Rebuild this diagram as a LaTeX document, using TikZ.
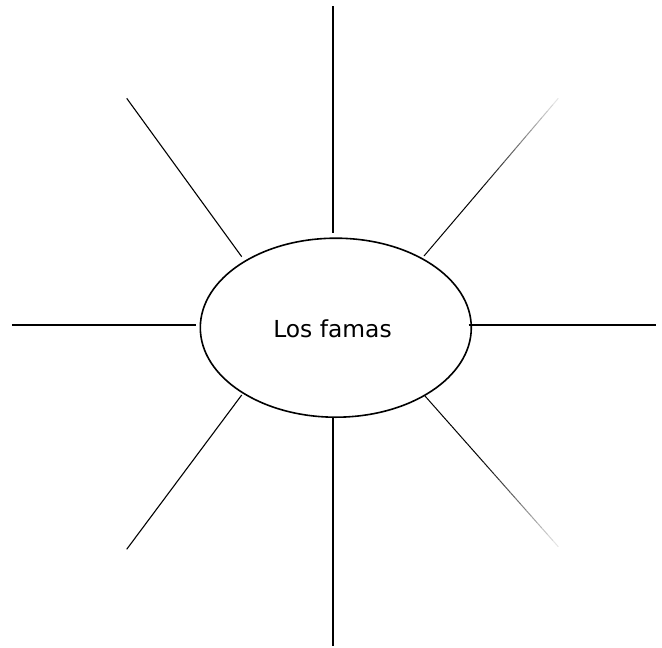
\documentclass[tikz,border=0pt]{standalone}
\usepackage{fontspec}
\newfontfamily\labelfont{DejaVu Sans}
\usetikzlibrary{shapes.geometric,calc}
\tikzset{
  ray/.style={line width=2pt, black},
  thinray/.style={line width=1.1pt, black},
  hub/.style={draw, ellipse, line width=1.6pt, minimum width=271pt, minimum height=179pt, inner sep=0pt},
  lbl/.style={font=\labelfont\fontsize{23.4}{28}\selectfont, anchor=base, inner sep=0pt}
}
\begin{document}
\begin{tikzpicture}[x=1pt, y=-1pt]
\useasboundingbox (0,0) rectangle (662,648);
\node[hub] (e) at (335.8,327.7) {};
\node[lbl] (t) at (332.5,337.7) {Los famas};
% ray end points
\coordinate (n1) at (332.7,6);     \coordinate (n2) at (332.7,233);
\coordinate (s1) at (332.7,417.7); \coordinate (s2) at (332.7,646);
\coordinate (w1) at (11.8,325);    \coordinate (w2) at (195.5,325);
\coordinate (o1) at (468.5,325);   \coordinate (o2) at (655.8,325);
\coordinate (nw1) at (126.7,98.3); \coordinate (nw2) at (241.7,256.7);
\coordinate (sw1) at (241.7,395);  \coordinate (sw2) at (126.7,549.3);
\coordinate (ne1) at (424,256);    \coordinate (ne2) at (558.3,98.3);
\coordinate (se1) at (425,396);    \coordinate (se2) at (558.3,546.7);
\draw[ray] (n1) -- (n2);
\draw[ray] (s1) -- (s2);
\draw[ray] (w1) -- (w2);
\draw[ray] (o1) -- (o2);
\draw[thinray] (nw1) -- (nw2);
\draw[thinray] (sw1) -- (sw2);
% fading rays on the right
\foreach \a/\b in {ne1/ne2, se1/se2}{
  \foreach \k in {0,...,24}{
    \pgfmathsetmacro{\ta}{\k/25}
    \pgfmathsetmacro{\tb}{(\k+1)/25}
    \pgfmathsetmacro{\p}{\ta<0.4 ? 100 : max(4,100-96*(\ta-0.4)/0.6)}
    \draw[line width=1.0pt, black!\p, line cap=butt] ($(\a)!\ta!(\b)$) -- ($(\a)!\tb!(\b)$);
  }
}
\end{tikzpicture}
\end{document}
